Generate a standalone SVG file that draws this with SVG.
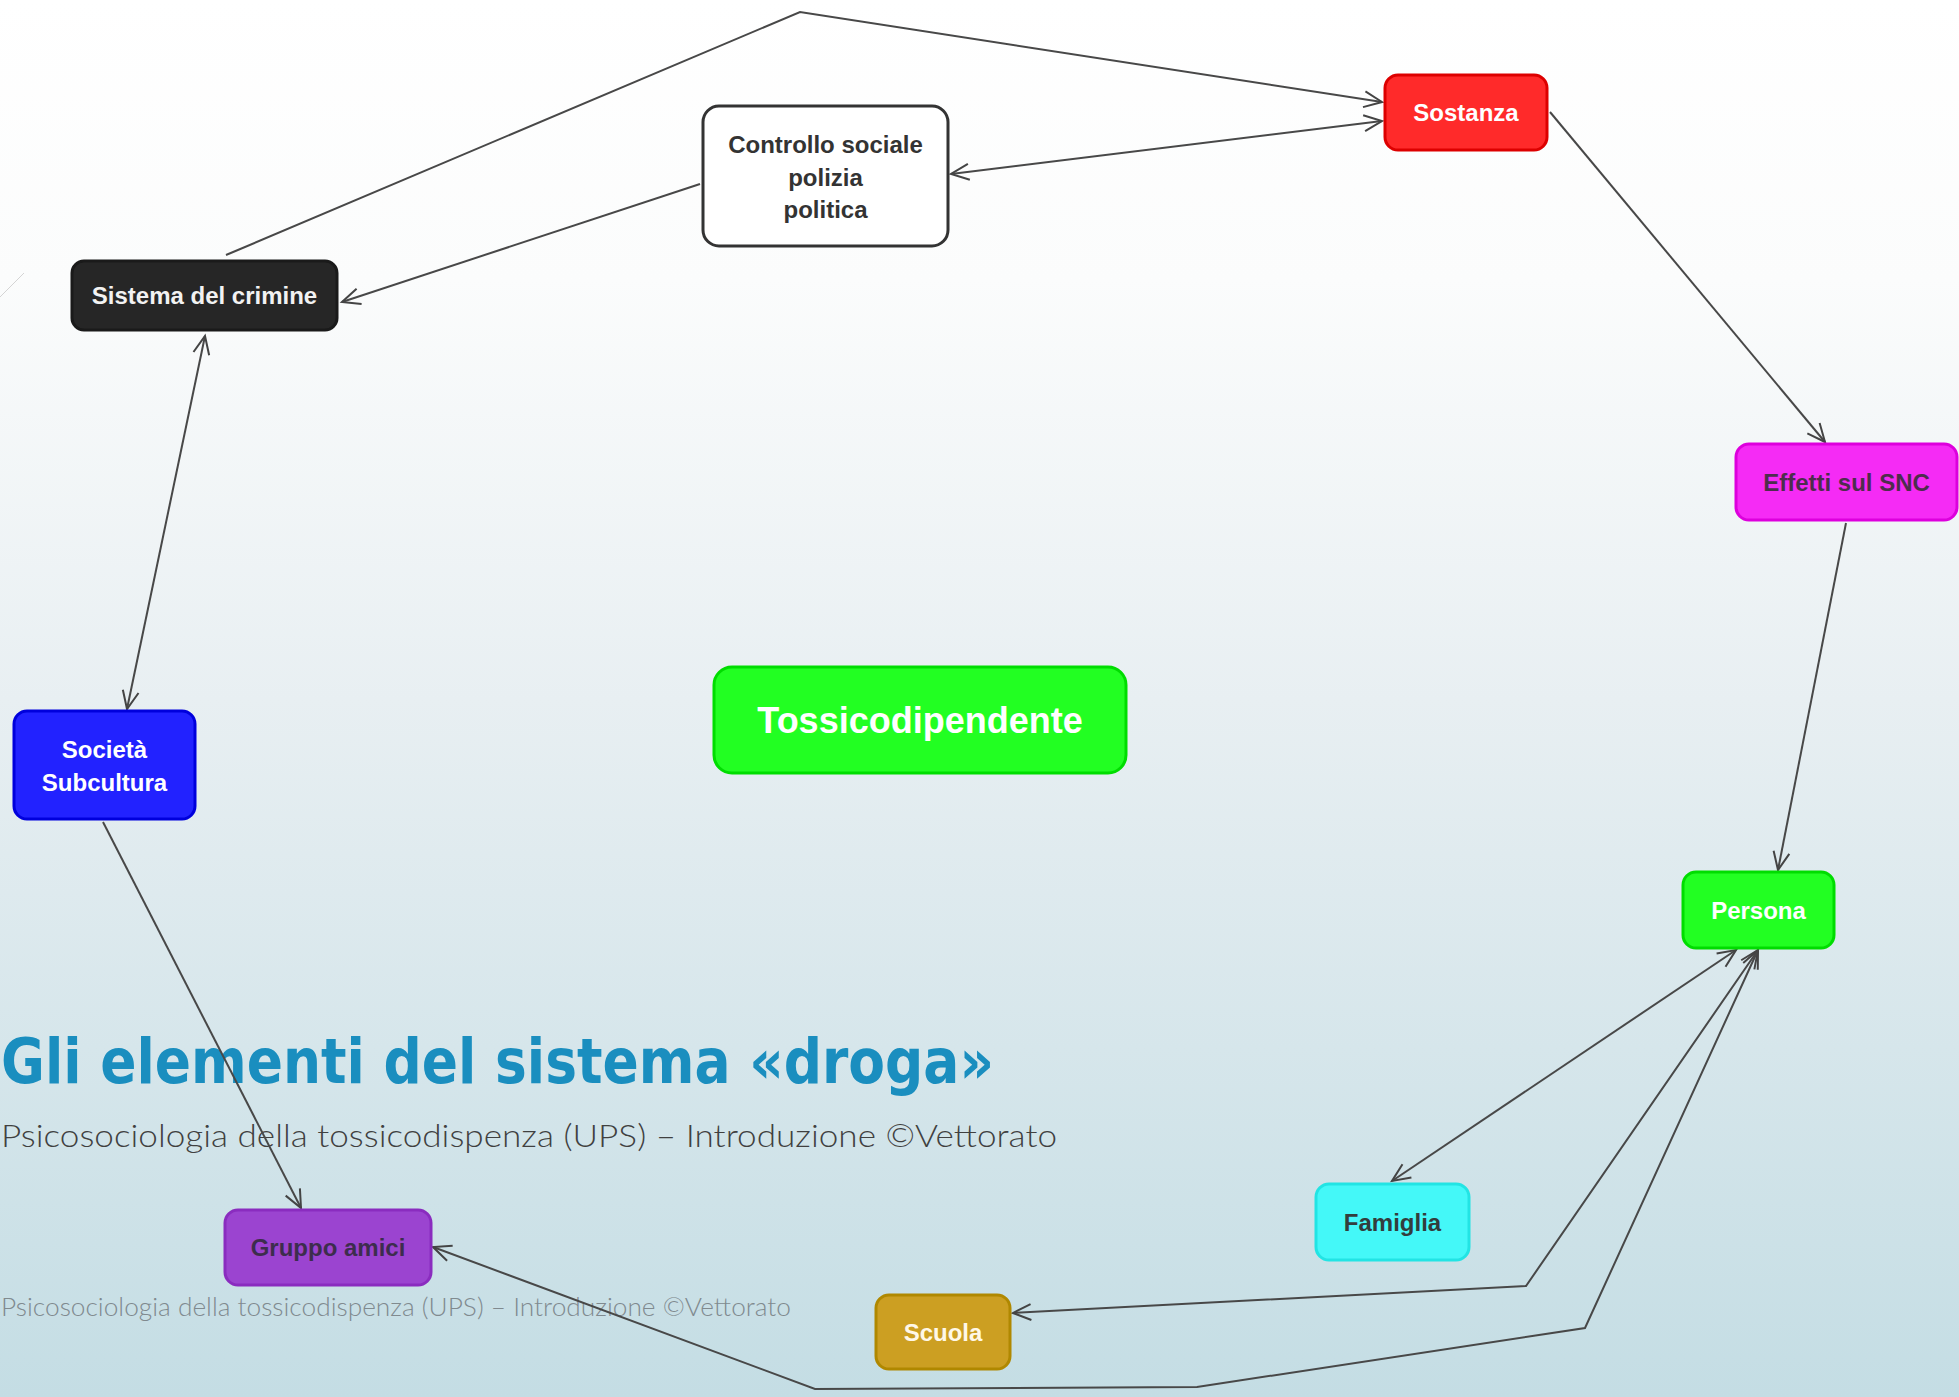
<svg xmlns="http://www.w3.org/2000/svg" width="1959" height="1397" viewBox="0 0 1959 1397">
  <defs>
    <linearGradient id="bg" x1="0" y1="0" x2="0" y2="1">
      <stop offset="0" stop-color="#ffffff"/>
      <stop offset="0.2" stop-color="#fbfcfc"/>
      <stop offset="0.5" stop-color="#e8eff2"/>
      <stop offset="1" stop-color="#c4dde4"/>
    </linearGradient>
    <marker id="arr" markerUnits="userSpaceOnUse" orient="auto-start-reverse" markerWidth="24" markerHeight="24" viewBox="-22 -12 24 24" refX="0" refY="0" style="overflow:visible">
      <path d="M-18,-8 L0,0 L-18,8" fill="none" stroke="#444" stroke-width="2"/>
    </marker>
  </defs>
  <style>
    .n { stroke-width: 3; }
    .lbl { font-family: "Liberation Sans", Arial, sans-serif; font-weight: bold; font-size: 24px; text-anchor: middle; }
    .c { fill: none; stroke: #484848; stroke-width: 2; }
  </style>
  <rect x="0" y="0" width="1959" height="1397" fill="url(#bg)"/>
  <line x1="0" y1="297" x2="24" y2="273" stroke="#d4d4d4" stroke-width="1"/>

  <text x="1" y="1083" textLength="993" lengthAdjust="spacingAndGlyphs" style="font-family:'DejaVu Sans', sans-serif; font-weight:bold; font-size:63px; fill:#1a8ebf">Gli elementi del sistema «droga»</text>
  <text x="1" y="1147" textLength="1056" lengthAdjust="spacingAndGlyphs" style="font-family:Lato, 'DejaVu Sans', sans-serif; font-weight:300; font-size:31px; fill:#404040">Psicosociologia della tossicodispenza  (UPS) – Introduzione ©Vettorato</text>
  <text x="1" y="1316" textLength="790" lengthAdjust="spacingAndGlyphs" style="font-family:Lato, 'DejaVu Sans', sans-serif; font-weight:300; font-size:25px; fill:#808a8f">Psicosociologia della tossicodispenza (UPS) – Introduzione ©Vettorato</text>

  <g id="connectors">
    <polyline class="c" points="226,255 800,12 1382,102" marker-end="url(#arr)"/>
    <line class="c" x1="951" y1="174" x2="1382" y2="121" marker-start="url(#arr)" marker-end="url(#arr)"/>
    <line class="c" x1="700" y1="184" x2="342" y2="302" marker-end="url(#arr)"/>
    <line class="c" x1="205" y1="336" x2="127" y2="709" marker-start="url(#arr)" marker-end="url(#arr)"/>
    <line class="c" x1="103" y1="822" x2="301" y2="1208" marker-end="url(#arr)"/>
    <line class="c" x1="1550" y1="112" x2="1825" y2="442" marker-end="url(#arr)"/>
    <line class="c" x1="1846" y1="523" x2="1778" y2="870" marker-end="url(#arr)"/>
    <line class="c" x1="1736" y1="950" x2="1392" y2="1181" marker-start="url(#arr)" marker-end="url(#arr)"/>
    <polyline class="c" points="1758,950 1526,1286 1013,1313" marker-start="url(#arr)" marker-end="url(#arr)"/>
    <polyline class="c" points="1758,950 1585,1328 1197,1387 815,1389 433,1247" marker-start="url(#arr)" marker-end="url(#arr)"/>
  </g>

  <g id="controllo">
    <rect class="n" x="703" y="106" width="245" height="140" rx="16" fill="#ffffff" stroke="#333333"/>
    <text class="lbl" x="825.5" fill="#333333"><tspan x="825.5" y="153">Controllo sociale</tspan><tspan x="825.5" y="185.5">polizia</tspan><tspan x="825.5" y="218">politica</tspan></text>
  </g>
  <g id="sostanza">
    <rect class="n" x="1385" y="75" width="162" height="75" rx="13" fill="#ff2a2a" stroke="#dd0000"/>
    <text class="lbl" x="1466" y="121" fill="#ffffff">Sostanza</text>
  </g>
  <g id="sistema">
    <rect class="n" x="72" y="261" width="265" height="69" rx="12" fill="#262626" stroke="#1a1a1a"/>
    <text class="lbl" x="204.5" y="304" fill="#f2f2f2">Sistema del crimine</text>
  </g>
  <g id="effetti">
    <rect class="n" x="1736" y="444" width="221" height="76" rx="13" fill="#f52bf5" stroke="#dd00dd"/>
    <text class="lbl" x="1846.5" y="491" fill="#4d2d4d">Effetti sul SNC</text>
  </g>
  <g id="tossicodipendente">
    <rect class="n" x="714" y="667" width="412" height="106" rx="18" fill="#22ff22" stroke="#00dd00"/>
    <text class="lbl" x="920" y="733" fill="#ffffff" style="font-size:36px">Tossicodipendente</text>
  </g>
  <g id="societa">
    <rect class="n" x="14" y="711" width="181" height="108" rx="13" fill="#2222ff" stroke="#0000dd"/>
    <text class="lbl" fill="#ffffff"><tspan x="104.5" y="758">Società</tspan><tspan x="104.5" y="791">Subcultura</tspan></text>
  </g>
  <g id="persona">
    <rect class="n" x="1683" y="872" width="151" height="76" rx="13" fill="#22ff22" stroke="#00dd00"/>
    <text class="lbl" x="1758.5" y="919" fill="#ffffff">Persona</text>
  </g>
  <g id="famiglia">
    <rect class="n" x="1316" y="1184" width="153" height="76" rx="13" fill="#44f8f8" stroke="#22e4e4"/>
    <text class="lbl" x="1392.5" y="1231" fill="#333d3d">Famiglia</text>
  </g>
  <g id="scuola">
    <rect class="n" x="876" y="1295" width="134" height="74" rx="13" fill="#cc9f22" stroke="#b08800"/>
    <text class="lbl" x="943" y="1341" fill="#fff8e8">Scuola</text>
  </g>
  <g id="gruppo">
    <rect class="n" x="225" y="1210" width="206" height="75" rx="13" fill="#9b44d0" stroke="#8a2cbf"/>
    <text class="lbl" x="328" y="1256" fill="#3d2d4d">Gruppo amici</text>
  </g>
</svg>
